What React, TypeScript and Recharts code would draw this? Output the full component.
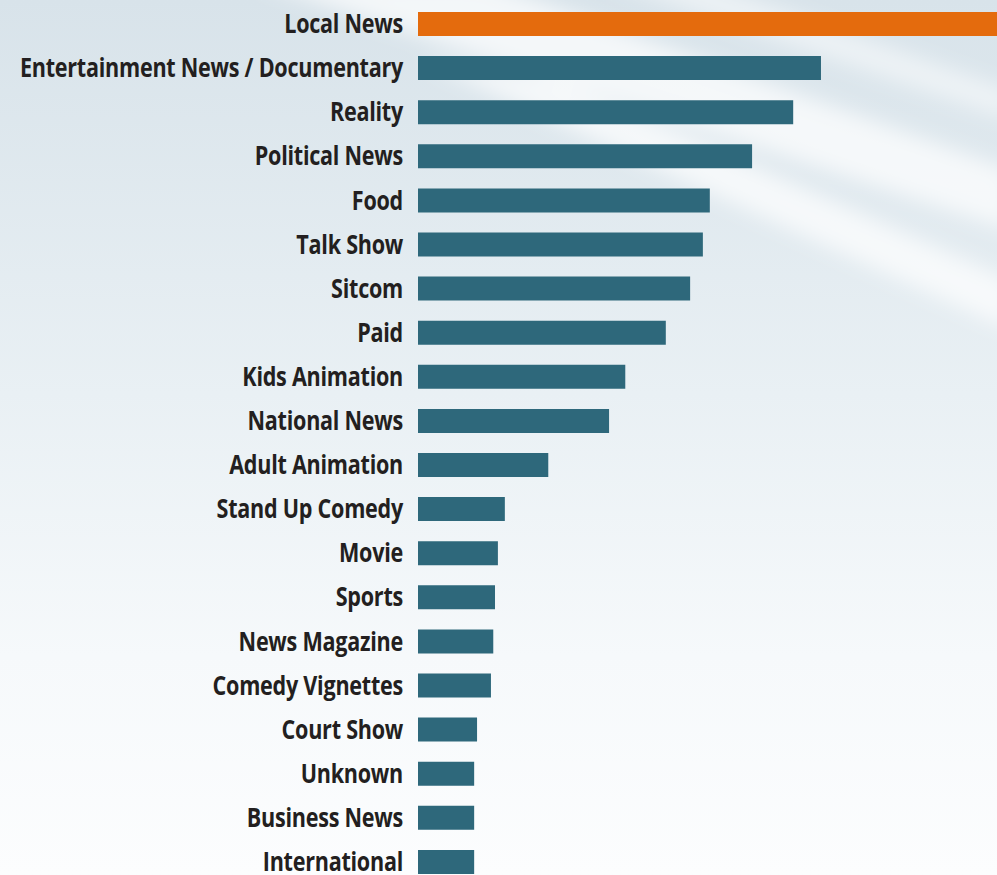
import React from 'react';
import { BarChart, Bar, XAxis, YAxis, Cell } from 'recharts';

const genres = [
    'Local News',
    'Entertainment News / Documentary',
    'Reality',
    'Political News',
    'Food',
    'Talk Show',
    'Sitcom',
    'Paid',
    'Kids Animation',
    'National News',
    'Adult Animation',
    'Stand Up Comedy',
    'Movie',
    'Sports',
    'News Magazine',
    'Comedy Vignettes',
    'Court Show',
    'Unknown',
    'Business News',
    'International'
];

// relative share, Local News runs off the chart
const shares = [108, 69.6, 64.8, 57.7, 50.4, 49.2, 47.0, 42.8, 35.8, 33.0, 22.5, 15.0, 13.8, 13.3, 13.0, 12.6, 10.2, 9.7, 9.7, 9.7];

const data = genres.map((genre, i) => ({ genre, share: shares[i] }));

const ORANGE = '#e46b0d';
const TEAL = '#2e687b';

function GenreTick({ x, y, payload }: any) {
    // condensed look: squeeze a bold humanist sans horizontally
    return (
        <g transform={`translate(${x - 7},${y}) scale(0.83,1)`}>
            <text
                x={0}
                y={0}
                dy="0.35em"
                textAnchor="end"
                fill="#231f20"
                style={{ fontFamily: '"Open Sans", "Noto Sans", sans-serif', fontWeight: 700, fontSize: 26, letterSpacing: -0.3 }}
            >
                {payload.value}
            </text>
        </g>
    );
}

export default function App() {
    return (
        <div style={{ position: 'fixed', left: 0, top: 0, width: 997, height: 875, overflow: 'hidden' }}>
            <svg width={997} height={875} style={{ position: 'absolute', left: 0, top: 0 }}>
                <defs>
                    <linearGradient id="bgFade" x1="0" y1="0" x2="0" y2="1">
                        <stop offset="0%" stopColor="#d8e3ea" />
                        <stop offset="45%" stopColor="#e9f0f4" />
                        <stop offset="75%" stopColor="#f6f9fb" />
                        <stop offset="100%" stopColor="#fcfdfe" />
                    </linearGradient>
                    <filter id="soft" x="-20%" y="-20%" width="140%" height="140%">
                        <feGaussianBlur stdDeviation="10" />
                    </filter>
                </defs>
                <rect width={997} height={875} fill="url(#bgFade)" />
                <g filter="url(#soft)" fill="#ffffff">
                    <polygon points="250,-20 480,-20 1010,170 1010,230" opacity={0.7} />
                    <polygon points="420,60 560,80 1010,280 1010,330" opacity={0.7} />
                    <polygon points="600,-20 700,-20 1010,90 1010,120" opacity={0.5} />
                </g>
            </svg>
            <div style={{ position: 'absolute', left: 0, top: 0 }}>
                <BarChart
                    layout="vertical"
                    width={997}
                    height={884}
                    data={data}
                    margin={{ top: 2, right: 0, bottom: 0, left: 0 }}
                    barSize={24}
                >
                    <XAxis type="number" domain={[0, 100]} allowDataOverflow hide />
                    <YAxis
                        type="category"
                        dataKey="genre"
                        width={418}
                        axisLine={false}
                        tickLine={false}
                        interval={0}
                        tick={<GenreTick />}
                    />
                    <Bar dataKey="share" isAnimationActive={false}>
                        {data.map((d, i) => (
                            <Cell key={d.genre} fill={i === 0 ? ORANGE : TEAL} />
                        ))}
                    </Bar>
                </BarChart>
            </div>
        </div>
    );
}
